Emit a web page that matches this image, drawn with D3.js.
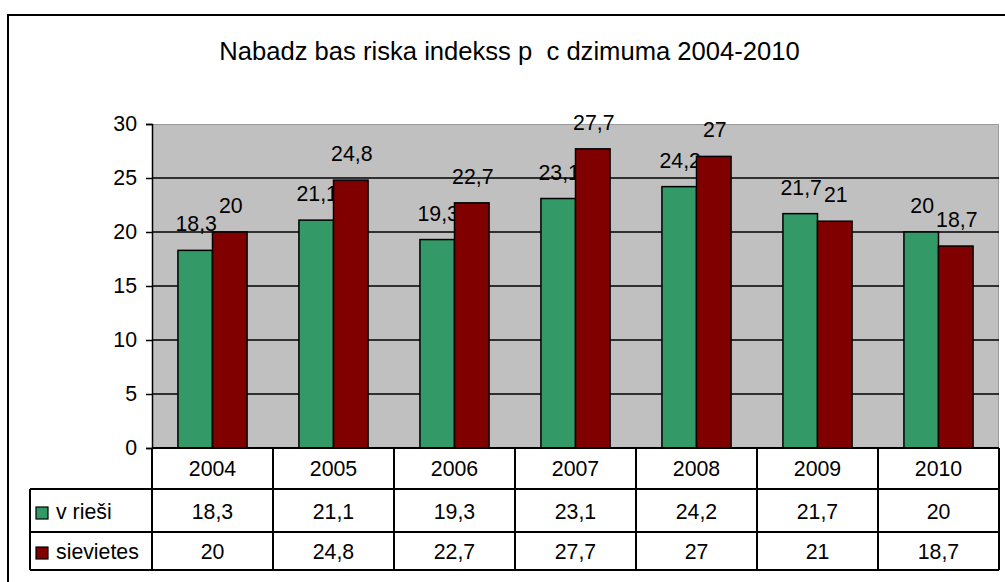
<!DOCTYPE html>
<html>
<head>
<meta charset="utf-8">
<script src="https://cdn.jsdelivr.net/npm/d3@7/dist/d3.min.js"></script>
<style>
  html, body { margin: 0; padding: 0; background: #fff; }
  svg { display: block; font-family: "Liberation Sans", Arial, sans-serif; }
  text { fill: #000; }
</style>
</head>
<body>
<svg id="chart" width="1005" height="582"></svg>
<script>
const categories = ["2004", "2005", "2006", "2007", "2008", "2009", "2010"];
const seriesNames = ["v rieši", "sievietes"];
const vRiesi = [18.3, 21.1, 19.3, 23.1, 24.2, 21.7, 20];
const sievietes = [20, 24.8, 22.7, 27.7, 27, 21, 18.7];
const yTicks = [0, 5, 10, 15, 20, 25, 30];
const seriesColors = ["#339966", "#800000"];
const titleText = "Nabadz bas riska indekss p  c dzimuma 2004-2010";

const seriesValues = [vRiesi, sievietes];
const fmt = v => String(v).replace(".", ",");

const svg = d3.select("#chart");
const plot = { left: 152, right: 999, top: 124, bottom: 448 };
const legendLeft = 30;
const rowY = [448, 489, 532, 570];
const FS = 21.3;

// outer border
svg.append("rect").attr("x", 8).attr("y", 15).attr("width", 1010).attr("height", 600)
  .attr("fill", "#fff").attr("stroke", "#000").attr("stroke-width", 2);

// title
svg.append("text").attr("x", 509.5).attr("y", 60).attr("text-anchor", "middle")
  .attr("font-size", 25.6).style("white-space", "pre").text(titleText);

const x = d3.scaleBand().domain(categories).range([plot.left, plot.right]).paddingInner(0).paddingOuter(0);
const x1 = d3.scaleBand().domain(seriesNames).range([0, x.bandwidth()]).paddingInner(0).paddingOuter(0.75);
const y = d3.scaleLinear().domain([0, 30]).range([plot.bottom, plot.top]);

// plot background
svg.append("rect").attr("x", plot.left).attr("y", plot.top)
  .attr("width", plot.right - plot.left).attr("height", plot.bottom - plot.top)
  .attr("fill", "#C0C0C0");
svg.append("path").attr("d", `M${plot.left},${plot.top + 0.5}H${plot.right - 0.5}V${plot.bottom}`)
  .attr("fill", "none").attr("stroke", "#9a9a9a").attr("stroke-width", 1);

// gridlines
svg.append("g").selectAll("line").data(yTicks.filter(t => t > 0 && t < 30)).join("line")
  .attr("x1", plot.left).attr("x2", plot.right)
  .attr("y1", d => y(d)).attr("y2", d => y(d))
  .attr("stroke", "#000").attr("stroke-width", 1.5);

// left axis
const yAxis = d3.axisLeft(y).tickValues(yTicks).tickSize(6).tickPadding(9).tickFormat(d => d);
const ga = svg.append("g").attr("transform", `translate(${plot.left},0)`).call(yAxis);
ga.select(".domain").attr("stroke", "#000").attr("stroke-width", 1.5);
ga.selectAll(".tick line").attr("stroke", "#000").attr("stroke-width", 1.5);
ga.selectAll(".tick text").attr("font-size", FS).attr("font-family", '"Liberation Sans", Arial, sans-serif').attr("fill", "#000");

// bars and labels per series (labels of earlier series sit behind later bars)
seriesNames.forEach((s, si) => {
  const g = svg.append("g");
  g.selectAll("rect").data(categories).join("rect")
    .attr("x", c => x(c) + x1(s))
    .attr("y", (c, i) => y(seriesValues[si][i]))
    .attr("width", x1.bandwidth())
    .attr("height", (c, i) => y(0) - y(seriesValues[si][i]))
    .attr("fill", seriesColors[si]).attr("stroke", "#000").attr("stroke-width", 1.5);
  g.selectAll("text").data(categories).join("text")
    .attr("x", c => x(c) + x1(s) + x1.bandwidth() / 2 + 1)
    .attr("y", (c, i) => y(seriesValues[si][i]) - 19)
    .attr("text-anchor", "middle").attr("font-size", FS)
    .text((c, i) => fmt(seriesValues[si][i]));
});

// data table
const tg = svg.append("g");
const lineAttr = sel => sel.attr("stroke", "#000").attr("stroke-width", 2);
tg.append("line").attr("x1", plot.left).attr("x2", plot.right).attr("y1", rowY[0]).attr("y2", rowY[0]).call(lineAttr);
[rowY[1], rowY[2], rowY[3]].forEach(yy => {
  tg.append("line").attr("x1", legendLeft).attr("x2", plot.right).attr("y1", yy).attr("y2", yy).call(lineAttr);
});
const vx = categories.map(c => x(c)).concat([plot.right]);
tg.selectAll("line.v").data(vx).join("line").attr("class", "v")
  .attr("x1", d => d).attr("x2", d => d).attr("y1", rowY[0]).attr("y2", rowY[3]).call(lineAttr);
tg.append("line").attr("x1", legendLeft).attr("x2", legendLeft).attr("y1", rowY[1]).attr("y2", rowY[3]).call(lineAttr);

// header
tg.selectAll("text.cat").data(categories).join("text").attr("class", "cat")
  .attr("x", c => x(c) + x.bandwidth() / 2).attr("y", 476)
  .attr("text-anchor", "middle").attr("font-size", FS).text(c => c);

// rows
const rowBase = [519, 559];
seriesNames.forEach((s, si) => {
  tg.append("rect").attr("x", 36).attr("y", rowBase[si] - 12).attr("width", 12).attr("height", 12)
    .attr("fill", seriesColors[si]).attr("stroke", "#000").attr("stroke-width", 1.2);
  tg.append("text").attr("x", 56).attr("y", rowBase[si]).attr("font-size", FS).text(s);
  tg.selectAll("text.val" + si).data(categories).join("text").attr("class", "val" + si)
    .attr("x", c => x(c) + x.bandwidth() / 2).attr("y", rowBase[si])
    .attr("text-anchor", "middle").attr("font-size", FS)
    .text((c, i) => fmt(seriesValues[si][i]));
});
</script>
</body>
</html>
